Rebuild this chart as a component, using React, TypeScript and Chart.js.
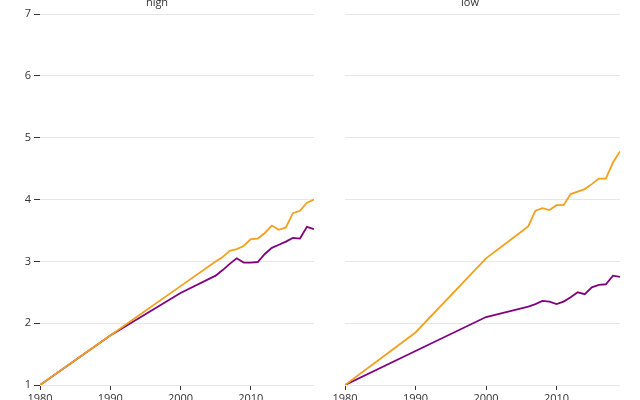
import React, { useEffect, useRef } from "react";
import { Chart, registerables } from "chart.js";

Chart.register(...registerables);

const years = [1980, 1990, 2000, 2005, 2006, 2007, 2008, 2009, 2010, 2011, 2012, 2013, 2014, 2015, 2016, 2017, 2018, 2019];

const highOrange = [1.0, 1.8, 2.6, 3.0, 3.07, 3.17, 3.2, 3.25, 3.36, 3.37, 3.46, 3.58, 3.51, 3.55, 3.78, 3.82, 3.95, 4.0];
const highPurple = [1.0, 1.8, 2.49, 2.77, 2.86, 2.96, 3.05, 2.98, 2.98, 2.99, 3.12, 3.22, 3.27, 3.32, 3.38, 3.37, 3.56, 3.52];

const lowOrange = [1.0, 1.85, 3.05, 3.48, 3.57, 3.82, 3.86, 3.83, 3.91, 3.91, 4.09, 4.13, 4.17, 4.25, 4.34, 4.34, 4.6, 4.78];
const lowPurple = [1.0, 1.55, 2.1, 2.24, 2.27, 2.31, 2.36, 2.35, 2.31, 2.35, 2.42, 2.5, 2.47, 2.58, 2.62, 2.63, 2.77, 2.75];

const panelTitles = ["high", "low"];
const xTicks = [1980, 1990, 2000, 2010];
const yTicks = [1, 2, 3, 4, 5, 6, 7];

const ORANGE = "#F2A01E";
const PURPLE = "#800080";
const TEXT = "#333333";
const GRID = "#e6e6e6";

function toPoints(vals: number[]) {
  return years.map((yr, i) => ({ x: yr, y: vals[i] }));
}

function makeConfig(title: string, orange: number[], purple: number[], showY: boolean): any {
  return {
    type: "line",
    data: {
      datasets: [
        { label: "orange", data: toPoints(orange), borderColor: ORANGE, borderWidth: 1.8, pointRadius: 0, tension: 0, fill: false },
        { label: "purple", data: toPoints(purple), borderColor: PURPLE, borderWidth: 1.8, pointRadius: 0, tension: 0, fill: false },
      ],
    },
    options: {
      animation: false,
      responsive: false,
      maintainAspectRatio: false,
      layout: { padding: { top: 0, left: 0, bottom: 0, right: showY ? 6 : 20 } },
      plugins: {
        legend: { display: false },
        tooltip: { enabled: false },
        title: {
          display: true,
          text: title,
          color: TEXT,
          font: { size: 11, weight: "normal", family: "'Open Sans', sans-serif" },
          padding: { top: 2, bottom: 5 },
        },
      },
      scales: {
        x: {
          type: "linear",
          min: 1980,
          max: 2019,
          afterBuildTicks: (scale: any) => {
            scale.ticks = xTicks.map((v) => ({ value: v }));
          },
          afterFit: (scale: any) => {
            scale.height = 25;
          },
          ticks: {
            color: TEXT,
            font: { size: 11, family: "'Open Sans', sans-serif" },
            padding: 2,
            maxRotation: 0,
            autoSkip: false,
            callback: (v: any) => String(v),
          },
          grid: { drawOnChartArea: false, drawTicks: true, tickLength: 5, tickColor: TEXT },
          border: { display: false },
        },
        y: {
          type: "linear",
          min: 1,
          max: 7,
          afterBuildTicks: (scale: any) => {
            scale.ticks = yTicks.map((v) => ({ value: v }));
          },
          afterFit: (scale: any) => {
            scale.width = showY ? 40 : 25;
          },
          ticks: {
            display: showY,
            color: TEXT,
            font: { size: 11, family: "'Open Sans', sans-serif" },
            padding: 3,
            callback: (v: any) => String(v),
          },
          grid: {
            color: GRID,
            lineWidth: 1,
            drawTicks: showY,
            tickLength: showY ? 6 : 0,
            tickColor: TEXT,
          },
          border: { display: false },
        },
      },
    },
  };
}

function Panel({ title, orange, purple, showY, left }: { title: string; orange: number[]; purple: number[]; showY: boolean; left: number }) {
  const ref = useRef<HTMLCanvasElement | null>(null);
  useEffect(() => {
    if (!ref.current) return;
    const chart = new Chart(ref.current, makeConfig(title, orange, purple, showY));
    return () => chart.destroy();
  }, [title, orange, purple, showY]);
  return (
    <canvas
      ref={ref}
      width={320}
      height={416}
      style={{ position: "absolute", left, top: -6, width: 320, height: 416, display: "block" }}
    />
  );
}

export default function App() {
  return (
    <div
      style={{
        position: "fixed",
        left: 0,
        top: 0,
        width: 640,
        height: 400,
        overflow: "hidden",
        background: "#ffffff",
      }}
    >
      <Panel title={panelTitles[0]} orange={highOrange} purple={highPurple} showY={true} left={0} />
      <Panel title={panelTitles[1]} orange={lowOrange} purple={lowPurple} showY={false} left={320} />
    </div>
  );
}
